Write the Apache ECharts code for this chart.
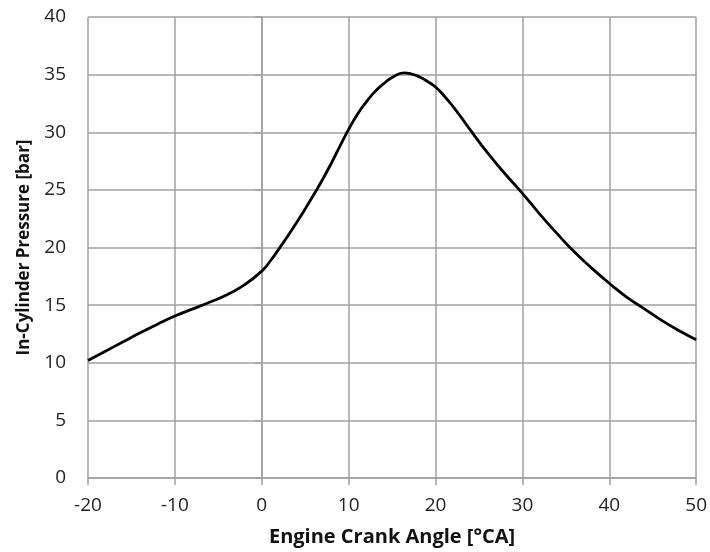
<!DOCTYPE html>
<html>
<head>
<meta charset="utf-8">
<script src="https://cdn.jsdelivr.net/npm/echarts@6/dist/echarts.min.js"></script>
<style>
  html, body { margin: 0; padding: 0; background: #fff; }
  #chart { width: 710px; height: 552px; }
</style>
</head>
<body>
<div id="chart"></div>
<script>
// crank angle [°CA] and in-cylinder pressure [bar]
const crankAngle = [-20, -18, -16, -14, -12, -10, -8, -6, -4, -2,
  0, 1, 2, 3, 4, 5, 6, 7, 8, 9, 10, 11, 12, 13, 14, 15, 16.4, 18, 19, 20, 21, 22, 23, 24,
  26, 28, 30, 32, 34, 36, 38, 40, 42, 44, 46, 48, 50];
const pressure = [10.2, 11.0, 11.8, 12.6, 13.35, 14.05, 14.65, 15.25, 15.9, 16.75,
  17.95, 18.85, 19.9, 21.0, 22.15, 23.35, 24.6, 25.9, 27.3, 28.8, 30.25, 31.55, 32.6, 33.5, 34.2, 34.75, 35.15, 34.85, 34.45, 33.93, 33.15, 32.25, 31.25, 30.2,
  28.2, 26.4, 24.7, 22.9, 21.2, 19.6, 18.2, 16.9, 15.7, 14.7, 13.7, 12.8, 12.0];
const xTicks = { min: -20, max: 50, step: 10 };
const yTicks = { min: 0, max: 40, step: 5 };

const points = crankAngle.map((a, i) => [a, pressure[i]]);

const gray = '#a0a0a0';
const font = '"Open Sans", "Noto Sans", sans-serif';

let chart = echarts.init(document.getElementById('chart'));
chart.setOption({
  animation: false,
  grid: { left: 88, right: 12, top: 17, bottom: 73 },
  xAxis: {
    type: 'value',
    min: xTicks.min, max: xTicks.max, interval: xTicks.step,
    name: 'Engine Crank Angle [°CA]',
    nameLocation: 'middle',
    nameGap: 49,
    nameTextStyle: { fontFamily: font, fontWeight: 'bold', fontSize: 20, color: '#111' },
    axisLine: { show: true, lineStyle: { color: gray, width: 1.5 } },
    axisTick: { show: true, length: 7, lineStyle: { color: gray, width: 1.5 } },
    axisLabel: { fontFamily: font, fontSize: 19, color: '#222', margin: 18 },
    splitLine: { show: true, lineStyle: { color: gray, width: 1.5 } }
  },
  yAxis: {
    type: 'value',
    min: yTicks.min, max: yTicks.max, interval: yTicks.step,
    name: 'In-Cylinder Pressure [bar]',
    nameLocation: 'middle',
    nameGap: 55,
    nameTextStyle: { fontFamily: font, fontWeight: 'bold', fontSize: 17, color: '#111' },
    axisLine: { show: true, lineStyle: { color: gray, width: 1.5 } },
    axisTick: { show: true, length: 7, lineStyle: { color: gray, width: 1.5 } },
    axisLabel: { fontFamily: font, fontSize: 19, color: '#222', margin: 22 },
    splitLine: { show: true, lineStyle: { color: gray, width: 1.5 } }
  },
  series: [{
    type: 'line',
    data: points,
    smooth: 0.5,
    showSymbol: false,
    lineStyle: { color: '#000', width: 2.8 }
  }]
});
</script>
</body>
</html>
